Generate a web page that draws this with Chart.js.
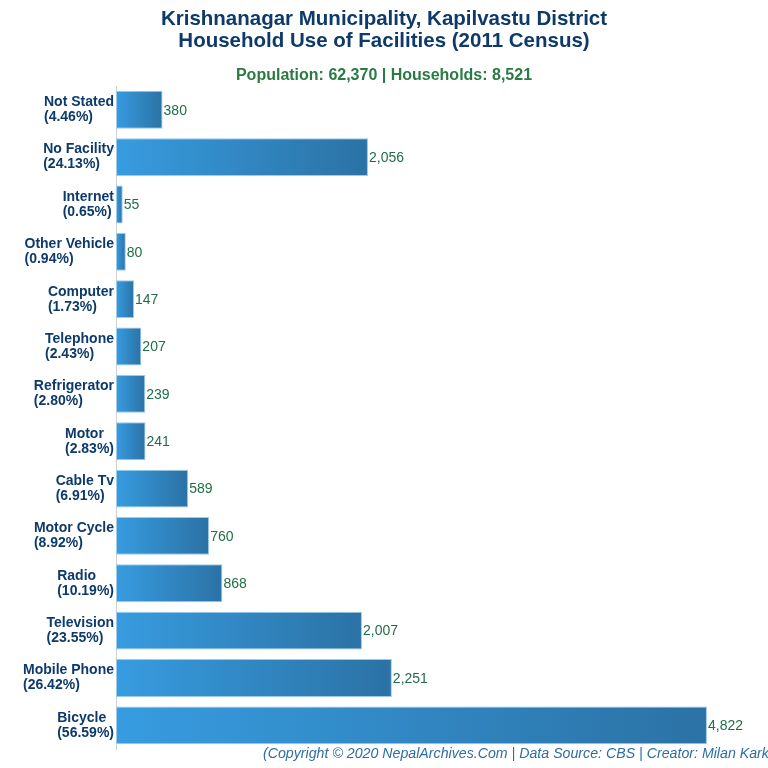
<!DOCTYPE html>
<html>
<head>
<meta charset="utf-8">
<script src="https://cdn.jsdelivr.net/npm/chart.js@4"></script>
<style>
  html, body { margin: 0; padding: 0; background: #fff; }
  #wrap { width: 768px; height: 768px; }
</style>
</head>
<body>
<div id="wrap"><canvas id="chartId" width="768" height="768"></canvas></div>
<script>
var categories = ["Not Stated", "No Facility", "Internet", "Other Vehicle", "Computer", "Telephone",
    "Refrigerator", "Motor", "Cable Tv", "Motor Cycle", "Radio", "Television", "Mobile Phone", "Bicycle"];
var households = [380, 2056, 55, 80, 147, 207, 239, 241, 589, 760, 868, 2007, 2251, 4822];
var percents = ["4.46", "24.13", "0.65", "0.94", "1.73", "2.43", "2.80", "2.83", "6.91", "8.92",
    "10.19", "23.55", "26.42", "56.59"];

var FONT = "'Liberation Sans', Arial, sans-serif";
var navy = '#0d3a6b';
var green = '#1f6e47';

// left labels: two lines, block right-aligned to the axis, lines left-aligned
var labelPlugin = {
    id: 'sideLabels',
    afterDraw: function (chart) {
        var ctx = chart.ctx;
        var y = chart.scales.y;
        var left = chart.chartArea.left;
        ctx.save();
        ctx.font = 'bold 14px ' + FONT;
        ctx.fillStyle = navy;
        ctx.textBaseline = 'middle';
        ctx.textAlign = 'left';
        categories.forEach(function (c, i) {
            var lines = [c, '(' + percents[i] + '%)'];
            var w = Math.max(ctx.measureText(lines[0]).width, ctx.measureText(lines[1]).width);
            var cy = y.getPixelForTick(i);
            ctx.fillText(lines[0], left - 2 - w, cy - 7.5);
            ctx.fillText(lines[1], left - 2 - w, cy + 7.5);
        });

        // value labels
        var meta = chart.getDatasetMeta(0);
        ctx.font = '14px ' + FONT;
        ctx.fillStyle = green;
        meta.data.forEach(function (bar, i) {
            ctx.fillText(households[i].toLocaleString('en-US'), bar.x + 1, bar.y + 1);
        });

        // footer
        ctx.font = 'italic 14.2px ' + FONT;
        ctx.fillStyle = '#2e6da4';
        ctx.fillText('(Copyright \u00a9 2020 NepalArchives.Com | Data Source: CBS | Creator: Milan Karki)', 263, 754);
        ctx.restore();
    }
};

var chrt = document.getElementById("chartId").getContext("2d");
var chartId = new Chart(chrt, {
    type: 'bar',
    data: {
        labels: categories,
        datasets: [{
            data: households,
            backgroundColor: function (context) {
                var chart = context.chart;
                if (!chart.chartArea) return '#3190d4';
                var x = chart.scales.x;
                var x0 = x.getPixelForValue(0);
                var x1 = x.getPixelForValue(context.raw);
                if (x1 - x0 < 1) x1 = x0 + 1;
                var g = chart.ctx.createLinearGradient(x0, 0, x1, 0);
                g.addColorStop(0, '#379ce0');
                g.addColorStop(1, '#2b72a5');
                return g;
            },
            borderColor: '#9ccbec',
            borderWidth: 1,
            borderSkipped: false,
            categoryPercentage: 0.8,
            barPercentage: 1.0
        }]
    },
    options: {
        indexAxis: 'y',
        responsive: false,
        animation: false,
        layout: {
            padding: { left: 0, right: 0, top: 0, bottom: 19 }
        },
        plugins: {
            legend: { display: false },
            tooltip: { enabled: false },
            title: {
                display: true,
                text: ['Krishnanagar Municipality, Kapilvastu District', 'Household Use of Facilities (2011 Census)'],
                color: navy,
                font: { family: FONT, size: 20.5, weight: 'bold', lineHeight: 1.1 },
                padding: { top: 8, bottom: 7 }
            },
            subtitle: {
                display: true,
                text: 'Population: 62,370 | Households: 8,521',
                color: '#2a7a44',
                font: { family: FONT, size: 16, weight: 'bold', lineHeight: 1.2 },
                padding: { top: 6.3, bottom: 0.5 }
            }
        },
        scales: {
            x: {
                display: false,
                min: 0,
                max: 5320
            },
            y: {
                grid: { display: false },
                border: { display: true, color: '#d0d0d0' },
                ticks: { display: false },
                afterFit: function (scale) { scale.width = 116; }
            }
        }
    },
    plugins: [labelPlugin]
});
</script>
</body>
</html>
